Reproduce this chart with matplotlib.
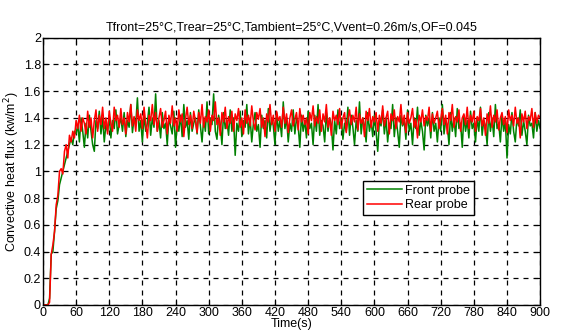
import matplotlib
matplotlib.use('Agg')
import matplotlib.pyplot as plt
import numpy as np

# sampled every 3 s, 0..900 s
time_step = 3

rear_probe = [
    0, 0, 0, 0, 0.02, 0.38, 0.45, 0.55, 0.75, 0.82, 1.0, 1.02, 0.98, 1.15, 1.2, 1.1, 1.27, 1.22, 1.3, 1.25,
    1.38, 1.32, 1.42, 1.3, 1.4, 1.36, 1.28, 1.45, 1.33, 1.4, 1.25, 1.38, 1.46, 1.3, 1.42, 1.35, 1.48, 1.32, 1.4, 1.28,
    1.45, 1.36, 1.3, 1.48, 1.38, 1.42, 1.33, 1.47, 1.35, 1.4, 1.28, 1.44, 1.37, 1.5, 1.34, 1.41, 1.3, 1.46, 1.38, 1.43,
    1.32, 1.48, 1.36, 1.25, 1.42, 1.38, 1.5, 1.35, 1.44, 1.3, 1.4, 1.47, 1.33, 1.38, 1.45, 1.28, 1.42, 1.36, 1.49, 1.34,
    1.4, 1.3, 1.46, 1.37, 1.43, 1.26, 1.39, 1.48, 1.35, 1.42, 1.32, 1.45, 1.38, 1.29, 1.44, 1.36, 1.5, 1.33, 1.41, 1.37,
    1.46, 1.3, 1.42, 1.38, 1.52, 1.35, 1.4, 1.27, 1.44, 1.37, 1.48, 1.32, 1.41, 1.36, 1.45, 1.3, 1.43, 1.38, 1.47, 1.33,
    1.4, 1.28, 1.46, 1.36, 1.42, 1.34, 1.49, 1.37, 1.31, 1.44, 1.39, 1.47, 1.33, 1.4, 1.26, 1.43, 1.37, 1.5, 1.35, 1.42,
    1.3, 1.45, 1.38, 1.41, 1.33, 1.48, 1.36, 1.43, 1.29, 1.4, 1.46, 1.34, 1.39, 1.44, 1.31, 1.47, 1.37, 1.42, 1.35, 1.4,
    1.28, 1.44, 1.38, 1.49, 1.34, 1.41, 1.36, 1.46, 1.3, 1.43, 1.37, 1.5, 1.33, 1.4, 1.27, 1.45, 1.38, 1.42, 1.35, 1.47,
    1.32, 1.4, 1.44, 1.29, 1.39, 1.46, 1.35, 1.42, 1.37, 1.48, 1.31, 1.43, 1.36, 1.4, 1.26, 1.45, 1.38, 1.47, 1.33, 1.41,
    1.37, 1.44, 1.3, 1.42, 1.36, 1.49, 1.34, 1.4, 1.45, 1.28, 1.43, 1.38, 1.46, 1.32, 1.41, 1.37, 1.5, 1.35, 1.42, 1.29,
    1.44, 1.36, 1.4, 1.47, 1.33, 1.39, 1.25, 1.42, 1.37, 1.46, 1.34, 1.41, 1.38, 1.48, 1.3, 1.43, 1.36, 1.4, 1.45, 1.32,
    1.39, 1.47, 1.35, 1.42, 1.28, 1.44, 1.38, 1.5, 1.33, 1.41, 1.37, 1.46, 1.3, 1.4, 1.43, 1.35, 1.48, 1.32, 1.42, 1.37,
    1.45, 1.3, 1.41, 1.38, 1.47, 1.34, 1.4, 1.27, 1.43, 1.36, 1.49, 1.33, 1.42, 1.37, 1.46, 1.31, 1.4, 1.44, 1.35, 1.41,
    1.29, 1.46, 1.38, 1.42, 1.34, 1.48, 1.36, 1.4, 1.25, 1.43, 1.37, 1.45, 1.32, 1.41, 1.38, 1.47, 1.33, 1.44, 1.36, 1.42,
    1.4,
]

front_probe = [
    0, 0, 0, 0, 0.05, 0.38, 0.4, 0.55, 0.72, 0.78, 0.9, 0.95, 1.0, 1.05, 1.1, 1.15, 1.2, 1.25, 1.2, 1.3,
    1.28, 1.35, 1.22, 1.4, 1.3, 1.18, 1.36, 1.25, 1.42, 1.3, 1.2, 1.15, 1.38, 1.32, 1.45, 1.28, 1.4, 1.22, 1.35, 1.3,
    1.42, 1.25, 1.38, 1.32, 1.46, 1.28, 1.35, 1.4, 1.3, 1.44, 1.26, 1.38, 1.33, 1.5, 1.29, 1.4, 1.35, 1.55, 1.3, 1.38,
    1.22, 1.42, 1.3, 1.36, 1.48, 1.27, 1.4, 1.33, 1.58, 1.3, 1.38, 1.25, 1.44, 1.32, 1.36, 1.2, 1.4, 1.34, 1.28, 1.45,
    1.18, 1.36, 1.3, 1.42, 1.26, 1.5, 1.33, 1.38, 1.24, 1.44, 1.3, 1.36, 1.4, 1.28, 1.46, 1.34, 1.22, 1.4, 1.3, 1.52,
    1.28, 1.4, 1.35, 1.58, 1.3, 1.24, 1.42, 1.35, 1.2, 1.44, 1.32, 1.38, 1.27, 1.46, 1.3, 1.4, 1.12, 1.36, 1.3, 1.45,
    1.26, 1.38, 1.33, 1.5, 1.28, 1.4, 1.22, 1.36, 1.44, 1.3, 1.35, 1.18, 1.42, 1.32, 1.38, 1.25, 1.47, 1.3, 1.4, 1.34,
    1.2, 1.44, 1.3, 1.38, 1.26, 1.52, 1.32, 1.4, 1.22, 1.36, 1.3, 1.46, 1.28, 1.4, 1.34, 1.18, 1.42, 1.3, 1.38, 1.25,
    1.45, 1.32, 1.36, 1.2, 1.42, 1.3, 1.5, 1.27, 1.38, 1.34, 1.22, 1.44, 1.3, 1.4, 1.35, 1.16, 1.38, 1.28, 1.46, 1.32,
    1.4, 1.24, 1.36, 1.3, 1.48, 1.27, 1.42, 1.33, 1.2, 1.38, 1.3, 1.52, 1.28, 1.4, 1.34, 1.22, 1.44, 1.3, 1.38, 1.26,
    1.42, 1.3, 1.15, 1.38, 1.34, 1.46, 1.28, 1.4, 1.22, 1.36, 1.32, 1.5, 1.26, 1.4, 1.3, 1.18, 1.42, 1.34, 1.38, 1.24,
    1.46, 1.3, 1.36, 1.2, 1.4, 1.32, 1.48, 1.27, 1.38, 1.3, 1.16, 1.42, 1.34, 1.4, 1.25, 1.44, 1.3, 1.36, 1.22, 1.4,
    1.3, 1.5, 1.28, 1.38, 1.34, 1.2, 1.44, 1.3, 1.4, 1.26, 1.47, 1.32, 1.36, 1.18, 1.42, 1.3, 1.38, 1.25, 1.45, 1.32,
    1.36, 1.22, 1.4, 1.3, 1.48, 1.27, 1.38, 1.34, 1.2, 1.44, 1.3, 1.4, 1.26, 1.5, 1.32, 1.36, 1.22, 1.42, 1.3, 1.38,
    1.1, 1.35, 1.28, 1.44, 1.3, 1.22, 1.4, 1.34, 1.46, 1.27, 1.38, 1.3, 1.2, 1.42, 1.34, 1.36, 1.25, 1.44, 1.3, 1.38,
    1.32,
]

x_ticks = list(range(0, 901, 60))
y_ticks = [0, 0.2, 0.4, 0.6, 0.8, 1, 1.2, 1.4, 1.6, 1.8, 2]
y_tick_labels = ['0', '0.2', '0.4', '0.6', '0.8', '1', '1.2', '1.4', '1.6', '1.8', '2']

plt.rcParams['font.family'] = ['Liberation Sans', 'DejaVu Sans']

t = np.arange(len(rear_probe)) * time_step

fig = plt.figure(figsize=(5.65, 3.34), dpi=100)
ax = fig.add_axes([0.076, 0.087, 0.880, 0.800])

ax.plot(t, front_probe, color='#008000', lw=1.1, label='Front probe')
ax.plot(t, rear_probe, color='#ff0000', lw=1.1, label='Rear probe')

ax.set_xlim(0, 900)
ax.set_ylim(0, 2)
ax.set_xticks(x_ticks)
ax.set_yticks(y_ticks)
ax.set_yticklabels(y_tick_labels)
ax.tick_params(direction='in', top=True, right=True, labelsize=9, pad=1.5, length=4)
ax.grid(True, color='black', linestyle=(0, (4, 4)), linewidth=0.9)
for s in ax.spines.values():
    s.set_linewidth(1.0)

ax.set_title('Tfront=25°C,Trear=25°C,Tambient=25°C,Vvent=0.26m/s,OF=0.045', fontsize=9, pad=5)
ax.set_xlabel('Time(s)', fontsize=9, labelpad=-1)
ax.set_ylabel('Convective heat flux (kw/m$^2$)', fontsize=9, labelpad=1)

leg = ax.legend(loc='center', bbox_to_anchor=(0.755, 0.40), fontsize=9, frameon=True,
                fancybox=False, edgecolor='black', framealpha=1, borderpad=0.3,
                handlelength=2.8, labelspacing=0.2, handletextpad=0.3)
leg.get_frame().set_linewidth(1.0)

fig.savefig('out.png', dpi=100)
